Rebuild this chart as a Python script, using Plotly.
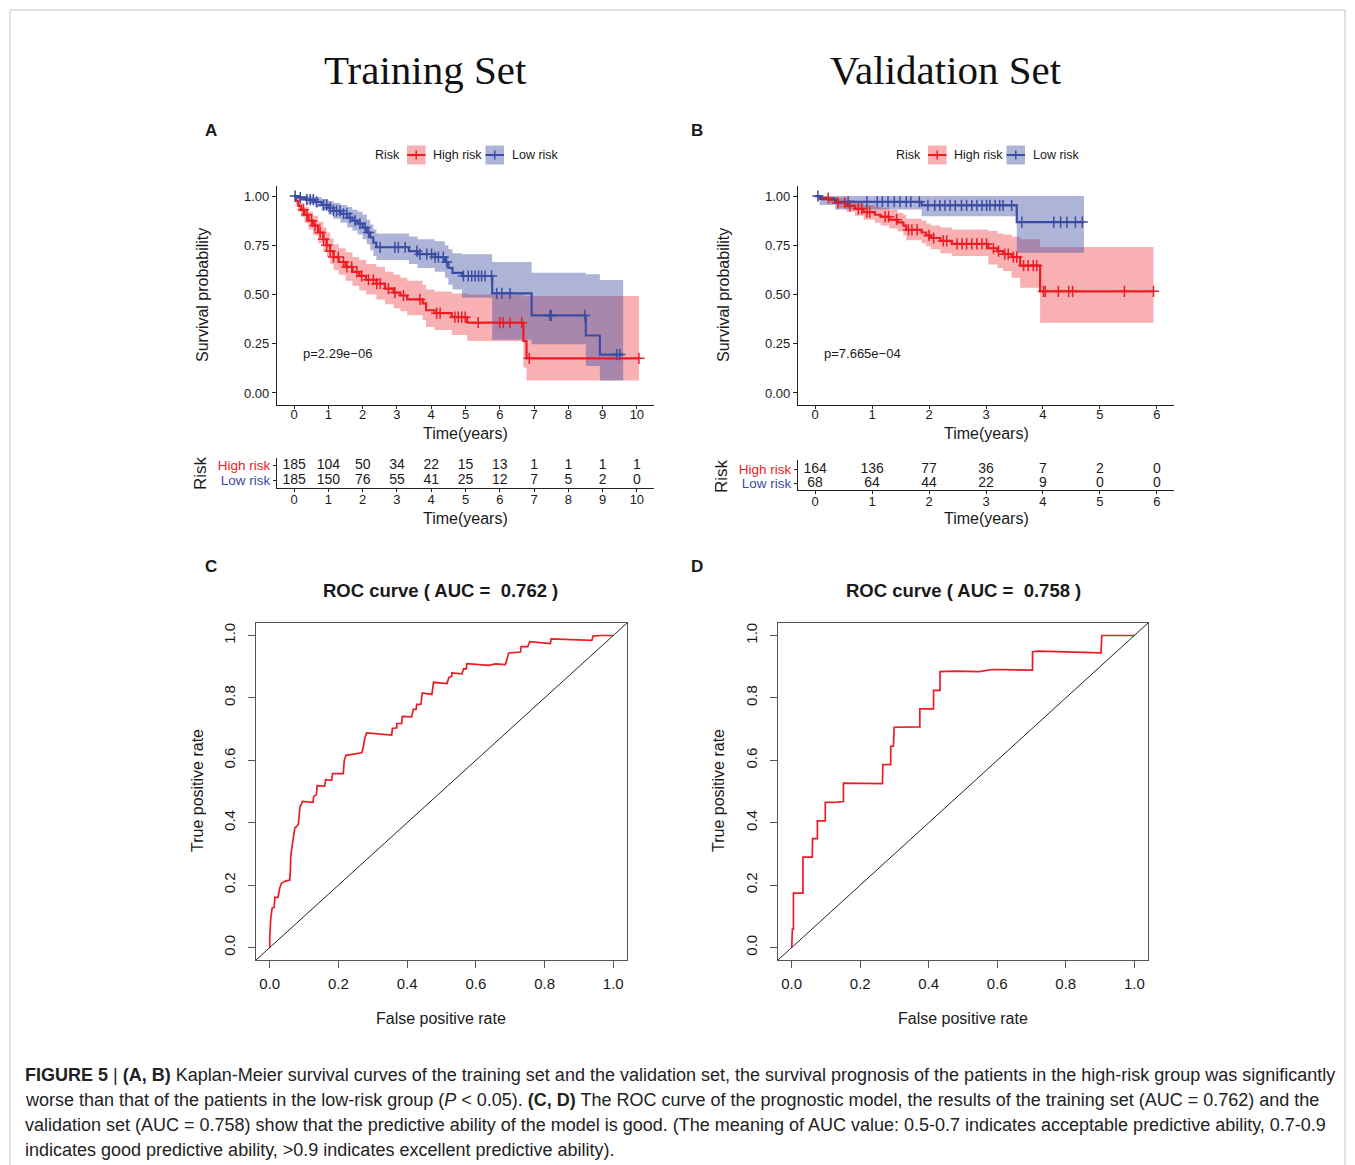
import bisect
import plotly.graph_objects as go

W, H = 1355, 1165
def X(px): return px / W
def Y(py): return 1 - py / H

RED = "#EC1C24"
BLUE = "#3B4DA3"
RED_FILL = "rgba(236,28,36,0.35)"
BLUE_FILL = "rgba(59,77,163,0.42)"
FONT = "Liberation Sans, Arial, sans-serif"
INK = "#1a1a1a"

# ---------------- Training set KM (A) ----------------
trA_high_t = [0, 0.05, 0.12, 0.2, 0.3, 0.42, 0.55, 0.7, 0.85, 0.95, 1.05, 1.15, 1.3, 1.5, 1.7, 1.9, 2.1, 2.4, 2.65, 2.9, 3.1, 3.3, 3.75, 3.85, 4.1, 4.6, 5.05, 6.69, 6.78]
trA_high_s = [1, .975, .95, .93, .905, .875, .85, .815, .78, .75, .72, .69, .665, .64, .615, .595, .575, .555, .53, .51, .495, .475, .455, .42, .405, .385, .357, .264, .176]
trA_high_lo = [1, .952, .92, .895, .865, .83, .80, .76, .72, .69, .655, .625, .60, .57, .545, .52, .50, .475, .45, .43, .415, .395, .37, .335, .32, .295, .264, .13, .064]
trA_high_hi = [1, .998, .985, .965, .945, .92, .90, .87, .84, .815, .785, .755, .735, .715, .69, .675, .655, .64, .615, .60, .585, .57, .55, .525, .515, .505, .50, .49, .492]
trA_high_end = 10.06
trA_high_cens = [0.27, 0.37, 0.51, 0.61, 0.76, 0.86, 0.95, 1.05, 1.15, 1.29, 1.44, 1.54, 1.68, 1.83, 1.97, 2.17, 2.31, 2.41, 2.51, 2.75, 2.94, 3.19, 3.67, 4.16, 4.26, 4.69, 4.79, 4.89, 4.99, 5.37, 6.0, 6.1, 6.3, 6.64, 6.86, 10.06]

trA_low_t = [0, .15, .35, .6, .8, 1.0, 1.15, 1.35, 1.55, 1.7, 1.85, 2.0, 2.12, 2.22, 2.31, 2.4, 3.35, 3.6, 4.1, 4.4, 4.5, 4.62, 4.9, 5.78, 6.93, 8.51, 8.92]
trA_low_s = [1, .992, .982, .97, .955, .94, .925, .91, .89, .875, .86, .84, .815, .79, .763, .74, .72, .705, .69, .665, .635, .61, .594, .506, .394, .292, .195]
trA_low_lo = [1, .975, .96, .945, .925, .905, .885, .865, .84, .825, .805, .78, .755, .725, .695, .675, .655, .635, .615, .585, .55, .525, .484, .27, .247, .137, .064]
trA_low_hi = [1, 1, 1, .995, .985, .975, .965, .955, .945, .93, .92, .905, .88, .855, .83, .81, .795, .78, .77, .75, .73, .71, .704, .665, .61, .603, .574]
trA_low_end = 9.6
trA_low_cens = [0.03, 0.18, 0.37, 0.47, 0.56, 0.66, 0.86, 0.95, 1.05, 1.15, 1.24, 1.34, 1.44, 1.54, 1.63, 1.78, 1.92, 2.07, 2.17, 2.51, 2.94, 3.04, 3.24, 3.58, 3.67, 3.87, 4.01, 4.11, 4.21, 4.35, 4.45, 4.94, 5.08, 5.18, 5.28, 5.38, 5.47, 5.57, 5.76, 5.91, 6.06, 6.3, 7.46, 7.5, 8.48, 9.41, 9.5]

trA_table_t = [0, 1, 2, 3, 4, 5, 6, 7, 8, 9, 10]
trA_table_high = [185, 104, 50, 34, 22, 15, 13, 1, 1, 1, 1]
trA_table_low = [185, 150, 76, 55, 41, 25, 12, 7, 5, 2, 0]

# ---------------- Validation set KM (B) ----------------
vaB_high_t = [0, .1, .25, .4, .55, .7, .85, 1.05, 1.15, 1.3, 1.45, 1.55, 1.6, 1.87, 1.95, 2.03, 2.2, 2.4, 3.04, 3.2, 3.3, 3.45, 3.6, 3.95]
vaB_high_s = [1, .99, .98, .965, .95, .935, .918, .905, .895, .88, .866, .85, .828, .815, .80, .787, .772, .757, .735, .72, .705, .69, .647, .516]
vaB_high_lo = [1, .975, .96, .94, .92, .90, .88, .865, .85, .835, .82, .80, .775, .76, .745, .73, .71, .695, .653, .635, .619, .585, .534, .357]
vaB_high_hi = [1, 1, .995, .99, .98, .97, .955, .945, .94, .93, .915, .905, .885, .875, .86, .85, .84, .83, .822, .81, .805, .793, .78, .741]
vaB_high_end = 5.94
vaB_high_cens = [0.23, 0.4, 0.52, 0.61, 0.76, 0.82, 0.91, 0.96, 1.23, 1.29, 1.43, 1.64, 1.7, 1.79, 2.0, 2.08, 2.25, 2.31, 2.49, 2.58, 2.66, 2.75, 2.84, 2.93, 3.01, 3.13, 3.22, 3.33, 3.39, 3.48, 3.54, 3.66, 3.74, 3.83, 3.89, 4.01, 4.04, 4.27, 4.45, 4.52, 5.43, 5.94]

vaB_low_t = [0, .08, .35, 1.87, 3.54]
vaB_low_s = [1, .986, .971, .953, .868]
vaB_low_lo = [1, .955, .932, .898, .712]
vaB_low_hi = [1, 1, 1, 1, 1]
vaB_low_end = 4.72
vaB_low_cens = [0.05, 0.58, 0.91, 1.09, 1.18, 1.28, 1.39, 1.49, 1.6, 1.68, 1.83, 1.98, 2.1, 2.19, 2.28, 2.37, 2.46, 2.57, 2.66, 2.75, 2.84, 2.93, 3.01, 3.07, 3.16, 3.24, 3.3, 3.45, 3.63, 4.19, 4.31, 4.42, 4.57, 4.69]

vaB_table_t = [0, 1, 2, 3, 4, 5, 6]
vaB_table_high = [164, 136, 77, 36, 7, 2, 0]
vaB_table_low = [68, 64, 44, 22, 9, 0, 0]

# ---------------- ROC curves (C, D) ----------------
rocC_fpr = [0, 0, 0.003, 0.007, 0.013, 0.015, 0.024, 0.029, 0.034, 0.044, 0.054, 0.058, 0.06, 0.061, 0.065, 0.068, 0.073, 0.078, 0.083, 0.086, 0.088, 0.092, 0.095, 0.126, 0.128, 0.136, 0.138, 0.16, 0.163, 0.18, 0.183, 0.214, 0.217, 0.222, 0.253, 0.268, 0.272, 0.277, 0.282, 0.311, 0.355, 0.357, 0.37, 0.37, 0.384, 0.386, 0.413, 0.418, 0.426, 0.428, 0.44, 0.444, 0.472, 0.477, 0.516, 0.521, 0.53, 0.53, 0.56, 0.564, 0.572, 0.574, 0.638, 0.657, 0.686, 0.696, 0.73, 0.732, 0.751, 0.757, 0.817, 0.819, 0.914, 0.938, 0.941, 0.963, 1.0]
rocC_tpr = [0, 0.03, 0.094, 0.126, 0.129, 0.161, 0.161, 0.19, 0.206, 0.212, 0.215, 0.215, 0.244, 0.292, 0.324, 0.345, 0.383, 0.388, 0.394, 0.426, 0.452, 0.458, 0.468, 0.465, 0.484, 0.49, 0.519, 0.517, 0.538, 0.536, 0.557, 0.557, 0.6, 0.616, 0.621, 0.624, 0.64, 0.672, 0.688, 0.686, 0.681, 0.702, 0.704, 0.718, 0.718, 0.741, 0.739, 0.763, 0.763, 0.779, 0.779, 0.816, 0.811, 0.85, 0.846, 0.864, 0.87, 0.88, 0.877, 0.893, 0.893, 0.91, 0.904, 0.909, 0.907, 0.944, 0.947, 0.964, 0.964, 0.98, 0.974, 0.989, 0.984, 0.984, 0.998, 1.0, 1.0]
rocC_auc = "0.762"

rocD_fpr = [0, 0.002, 0.005, 0.005, 0.033, 0.033, 0.06, 0.061, 0.075, 0.075, 0.098, 0.098, 0.133, 0.151, 0.151, 0.265, 0.266, 0.289, 0.289, 0.297, 0.299, 0.328, 0.374, 0.374, 0.414, 0.414, 0.433, 0.433, 0.479, 0.547, 0.586, 0.703, 0.703, 0.722, 0.903, 0.905, 1.0]
rocD_tpr = [0, 0.059, 0.059, 0.174, 0.174, 0.29, 0.29, 0.349, 0.349, 0.406, 0.406, 0.465, 0.466, 0.468, 0.527, 0.525, 0.586, 0.586, 0.645, 0.645, 0.706, 0.707, 0.707, 0.765, 0.765, 0.824, 0.824, 0.884, 0.886, 0.884, 0.891, 0.889, 0.948, 0.95, 0.944, 1.0, 1.0]
rocD_auc = "0.758"


def step_at(ts, vs, t):
    i = bisect.bisect_right(ts, t) - 1
    return vs[max(i, 0)]


fig = go.Figure()


def km(t, s, lo, hi, end, cens, color, fill, xa, ya):
    tt = t + [end]
    band = [
        go.Scatter(x=tt, y=hi + [hi[-1]], mode="lines", line=dict(width=0, shape="hv"),
                   hoverinfo="skip", xaxis=xa, yaxis=ya),
        go.Scatter(x=tt, y=lo + [lo[-1]], mode="lines", line=dict(width=0, shape="hv"),
                   fill="tonexty", fillcolor=fill, hoverinfo="skip", xaxis=xa, yaxis=ya),
    ]
    line = go.Scatter(x=tt, y=s + [s[-1]], mode="lines", line=dict(color=color, width=2.2, shape="hv"),
                      xaxis=xa, yaxis=ya)
    marks = go.Scatter(x=cens, y=[step_at(t, s, c) for c in cens], mode="markers",
                       marker=dict(symbol="cross-thin", size=8, line=dict(color=color, width=1.5)),
                       xaxis=xa, yaxis=ya)
    return band, line, marks


for (grpH, grpL, xa, ya) in [
    ((trA_high_t, trA_high_s, trA_high_lo, trA_high_hi, trA_high_end, trA_high_cens),
     (trA_low_t, trA_low_s, trA_low_lo, trA_low_hi, trA_low_end, trA_low_cens), "x", "y"),
    ((vaB_high_t, vaB_high_s, vaB_high_lo, vaB_high_hi, vaB_high_end, vaB_high_cens),
     (vaB_low_t, vaB_low_s, vaB_low_lo, vaB_low_hi, vaB_low_end, vaB_low_cens), "x2", "y2"),
]:
    bH, lH, mH = km(*grpH, RED, RED_FILL, xa, ya)
    bL, lL, mL = km(*grpL, BLUE, BLUE_FILL, xa, ya)
    for tr in bH + bL + [lH, lL, mH, mL]:
        fig.add_trace(tr)

# risk tables
for (tt, hi_n, lo_n, xa, ya) in [(trA_table_t, trA_table_high, trA_table_low, "x3", "y3"),
                                  (vaB_table_t, vaB_table_high, vaB_table_low, "x4", "y4")]:
    fig.add_trace(go.Scatter(x=tt, y=[2] * len(tt), text=[str(v) for v in hi_n], mode="text",
                             textfont=dict(size=14, color=INK, family=FONT), xaxis=xa, yaxis=ya))
    fig.add_trace(go.Scatter(x=tt, y=[1] * len(tt), text=[str(v) for v in lo_n], mode="text",
                             textfont=dict(size=14, color=INK, family=FONT), xaxis=xa, yaxis=ya))

# ROC
for (fpr, tpr, xa, ya) in [(rocC_fpr, rocC_tpr, "x5", "y5"), (rocD_fpr, rocD_tpr, "x6", "y6")]:
    fig.add_trace(go.Scatter(x=fpr, y=tpr, mode="lines", line=dict(color=RED, width=1.7),
                             xaxis=xa, yaxis=ya))

# ---------------- axes ----------------
axline = dict(showline=True, linecolor="#222", linewidth=1.1, ticks="outside", tickcolor="#222",
              ticklen=4, tickwidth=1.1, showgrid=False, zeroline=False,
              tickfont=dict(size=13, color=INK, family=FONT))

def km_axes(x0, x1, xmax, pad):
    xa = dict(axline, domain=[X(x0), X(x1)], range=[-pad, xmax + pad],
              tickvals=list(range(0, int(xmax) + 1)), ticklen=3, ticklabelstandoff=-6)
    ya = dict(axline, domain=[Y(405), Y(186)], range=[-0.061, 1.051],
              tickvals=[0, 0.25, 0.5, 0.75, 1.0], ticktext=["0.00", "0.25", "0.50", "0.75", "1.00"])
    return xa, ya

xa1, ya1 = km_axes(277, 654, 10, 0.5)
xa2, ya2 = km_axes(798, 1174, 6, 0.3)
ya1["anchor"] = "x"; xa1["anchor"] = "y"
xa2["anchor"] = "y2"; ya2["anchor"] = "x2"

risk_ticktext = ['<span style="color:%s">Low risk</span>' % BLUE,
                 '<span style="color:%s">High risk</span>' % RED]

xa3 = dict(axline, domain=[X(277), X(654)], range=[-0.5, 10.5], tickvals=trA_table_t, anchor="y3",
           ticklen=3, ticklabelstandoff=-4)
ya3 = dict(axline, domain=[Y(488), Y(458)], range=[0.467, 2.467], tickvals=[1, 2],
           ticktext=risk_ticktext, anchor="x3", ticklen=3)
xa4 = dict(axline, domain=[X(798), X(1174)], range=[-0.3, 6.3], tickvals=vaB_table_t, anchor="y4",
           ticklen=3, ticklabelstandoff=-4)
ya4 = dict(axline, domain=[Y(490), Y(460)], range=[0.5, 2.643], tickvals=[1, 2],
           ticktext=risk_ticktext, anchor="x4", ticklen=3)
for a in (ya3, ya4):
    a["tickfont"] = dict(size=13.5, family=FONT)

roc_ax = dict(showline=True, mirror=True, linecolor="#555", linewidth=1, ticks="outside",
              tickcolor="#555", ticklen=7, showgrid=False, zeroline=False, range=[-0.04, 1.04],
              tickvals=[0, 0.2, 0.4, 0.6, 0.8, 1.0], ticktext=["0.0", "0.2", "0.4", "0.6", "0.8", "1.0"],
              tickfont=dict(size=15, color=INK, family=FONT))
xa5 = dict(roc_ax, domain=[X(256), X(627)], anchor="y5", ticklabelstandoff=3)
ya5 = dict(roc_ax, domain=[Y(960), Y(623)], anchor="x5", tickangle=-90, ticklabelstandoff=7)
xa6 = dict(roc_ax, domain=[X(778), X(1148)], anchor="y6", ticklabelstandoff=3)
ya6 = dict(roc_ax, domain=[Y(960), Y(623)], anchor="x6", tickangle=-90, ticklabelstandoff=7)

fig.update_layout(
    width=W, height=H, autosize=False, margin=dict(l=0, r=0, t=0, b=0),
    paper_bgcolor="white", plot_bgcolor="white", showlegend=False,
    font=dict(family=FONT, color=INK),
    xaxis=xa1, yaxis=ya1, xaxis2=xa2, yaxis2=ya2, xaxis3=xa3, yaxis3=ya3,
    xaxis4=xa4, yaxis4=ya4, xaxis5=xa5, yaxis5=ya5, xaxis6=xa6, yaxis6=ya6,
)

# ---------------- annotations ----------------
ann = []
def txt(px, py, text, size, anchor="center", angle=0, bold=False, family=FONT, color=INK):
    ann.append(dict(x=X(px), y=Y(py), xref="paper", yref="paper", text=("<b>%s</b>" % text) if bold else text,
                    showarrow=False, xanchor=anchor, yanchor="middle", textangle=angle,
                    font=dict(size=size, family=family, color=color)))

SERIF = "Liberation Serif, Times New Roman, serif"
txt(425, 70, "Training Set", 41, family=SERIF, color="#111")
txt(946, 70, "Validation Set", 41, family=SERIF, color="#111")
for (px, py, l) in [(211, 131, "A"), (697, 131, "B"), (211, 566, "C"), (697, 566, "D")]:
    txt(px, py, l, 17, bold=True)

# KM axis titles
for cx in (465, 986):
    txt(cx, 433, "Time(years)", 16)
    txt(cx, 518, "Time(years)", 16)
txt(202, 295, "Survival probability", 16, angle=-90)
txt(723, 295, "Survival probability", 16, angle=-90)
txt(200, 473, "Risk", 17, angle=-90)
txt(722, 476, "Risk", 17, angle=-90)

# p-values
ann.append(dict(x=0.2, y=0.2, xref="x", yref="y", text="p=2.29e\u221206", showarrow=False, xanchor="left",
                font=dict(size=13, family=FONT, color=INK)))
ann.append(dict(x=0.12, y=0.2, xref="x2", yref="y2", text="p=7.665e\u221204", showarrow=False, xanchor="left",
                font=dict(size=13, family=FONT, color=INK)))

# legends
shapes = []
def legend(risk_cx, red_x0, high_x, blue_x0, low_x, yc=155):
    txt(risk_cx, yc, "Risk", 12.5)
    txt(high_x, yc, "High risk", 12.5, anchor="left")
    txt(low_x, yc, "Low risk", 12.5, anchor="left")
    for x0, col, fill in [(red_x0, RED, RED_FILL), (blue_x0, BLUE, BLUE_FILL)]:
        shapes.append(dict(type="rect", xref="paper", yref="paper", x0=X(x0), x1=X(x0 + 18.5),
                           y0=Y(yc + 9.5), y1=Y(yc - 9.5), fillcolor=fill, line=dict(width=0), layer="below"))
        shapes.append(dict(type="line", xref="paper", yref="paper", x0=X(x0), x1=X(x0 + 18.5),
                           y0=Y(yc), y1=Y(yc), line=dict(color=col, width=2)))
        shapes.append(dict(type="line", xref="paper", yref="paper", x0=X(x0 + 9.25), x1=X(x0 + 9.25),
                           y0=Y(yc - 4.5), y1=Y(yc + 4.5), line=dict(color=col, width=1.5)))

legend(387, 407, 431, 485.5, 510)
legend(908.5, 928, 952, 1006.5, 1031)

# ROC titles / axis titles / diagonal
for cx, auc, xa, ya, ylab_x in [(441, rocC_auc, "x5", "y5", 197), (963, rocD_auc, "x6", "y6", 718)]:
    txt(cx, 590, "ROC curve ( AUC =\u00a0\u00a0%s )" % auc, 18.5, bold=True)
    txt(cx, 1018, "False positive rate", 16)
    txt(ylab_x, 791, "True positive rate", 16, angle=-90)
    shapes.append(dict(type="line", xref=xa, yref=ya, x0=-0.04, y0=-0.04, x1=1.04, y1=1.04,
                       line=dict(color="#222", width=1)))

# caption
cap = [
    "<b>FIGURE 5</b> | <b>(A, B)</b> Kaplan-Meier survival curves of the training set and the validation set, the survival prognosis of the patients in the high-risk group was significantly",
    "worse than that of the patients in the low-risk group (<i>P</i> &lt; 0.05). <b>(C, D)</b> The ROC curve of the prognostic model, the results of the training set (AUC = 0.762) and the",
    "validation set (AUC = 0.758) show that the predictive ability of the model is good. (The meaning of AUC value: 0.5-0.7 indicates acceptable predictive ability, 0.7-0.9",
    "indicates good predictive ability, &gt;0.9 indicates excellent predictive ability).",
]
for i, line in enumerate(cap):
    txt(23, 1075 + 25 * i, line, 18, anchor="left", color="#222")

# outer border
for (x0, y0, x1, y1) in [(10, 10, 10, 1175), (10, 10, 1345, 10), (1345, 10, 1345, 1175)]:
    shapes.append(dict(type="line", xref="paper", yref="paper", x0=X(x0), y0=Y(y0), x1=X(x1), y1=Y(y1),
                       line=dict(color="#c4c4c4", width=1)))

fig.update_layout(annotations=ann, shapes=shapes)
fig.write_html("out.html")
